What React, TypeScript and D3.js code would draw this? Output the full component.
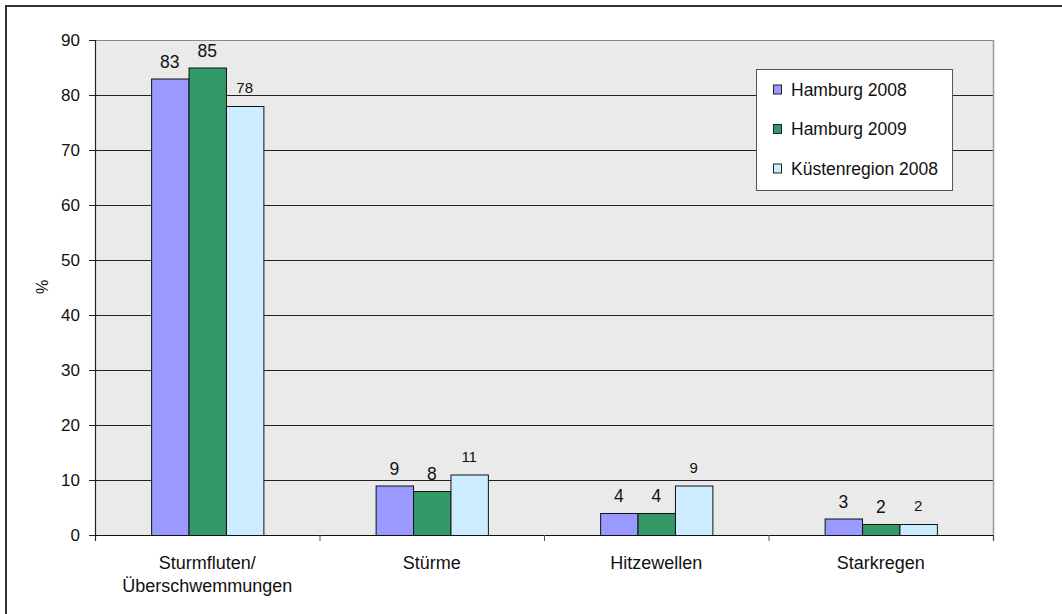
import React from "react";
import * as d3 from "d3";

const categories = ["Sturmfluten/\nÜberschwemmungen", "Stürme", "Hitzewellen", "Starkregen"];
const seriesNames = ["Hamburg 2008", "Hamburg 2009", "Küstenregion 2008"];
const hamburg2008 = [83, 9, 4, 3];
const hamburg2009 = [85, 8, 4, 2];
const kueste2008 = [78, 11, 9, 2];
const seriesColors = ["#9999FF", "#339966", "#CCECFF"];
const yTicks = [0, 10, 20, 30, 40, 50, 60, 70, 80, 90];

const seriesValues = [hamburg2008, hamburg2009, kueste2008];

export default function App() {
  const W = 1062, H = 614;
  const left = 95, right = 993, top = 40, bottom = 535;
  const y = d3.scaleLinear().domain([0, 90]).range([bottom, top]);
  const x0 = d3.scaleBand<string>().domain(categories).range([left, right]).padding(0);
  const bw = x0.bandwidth();
  const x1 = d3.scaleBand<string>().domain(seriesNames).range([bw / 4, (3 * bw) / 4]).padding(0);
  const font = "Arial, 'Liberation Sans', sans-serif";

  return (
    <svg width={W} height={H} style={{ position: "absolute", left: 0, top: 0, background: "#fff" }} fontFamily={font}>
      <rect x={6} y={6} width={1100} height={700} fill="#fff" stroke="#333" strokeWidth={2} />
      <rect x={left} y={top} width={right - left} height={bottom - top} fill="#EAEAEA" />
      {yTicks.map((t) => (
        <g key={t}>
          {t > 0 && t < 90 && (
            <line x1={left} x2={right} y1={Math.round(y(t)) + 0.5} y2={Math.round(y(t)) + 0.5} stroke="#222" strokeWidth={1} />
          )}
          <line x1={left - 6} x2={left} y1={Math.round(y(t)) + 0.5} y2={Math.round(y(t)) + 0.5} stroke="#222" />
          <text x={80} y={y(t)} dy="0.35em" textAnchor="end" fontSize={17} fill="#111">
            {t}
          </text>
        </g>
      ))}
      {/* plot border top/right */}
      <line x1={left} x2={right} y1={top + 0.5} y2={top + 0.5} stroke="#888" />
      <line x1={right + 0.5} x2={right + 0.5} y1={top} y2={bottom + 6} stroke="#999" strokeWidth={1.5} />
      {/* bars */}
      {categories.map((c, ci) => (
        <g key={c} transform={`translate(${x0(c)},0)`}>
          {seriesNames.map((s, si) => {
            const v = seriesValues[si][ci];
            const bx = x1(s)!;
            return (
              <g key={s}>
                <rect
                  x={bx + 0.5}
                  y={y(v) + 0.5}
                  width={x1.bandwidth()}
                  height={y(0) - y(v)}
                  fill={seriesColors[si]}
                  stroke="#111"
                  strokeWidth={1}
                />
                <text
                  x={bx + x1.bandwidth() / 2}
                  y={y(v) - (si === 2 ? 13 : 11)}
                  textAnchor="middle"
                  fontSize={si === 2 ? 15 : 17.5}
                  fill="#111"
                >
                  {v}
                </text>
              </g>
            );
          })}
        </g>
      ))}
      {/* axes */}
      <line x1={left + 0.5} x2={left + 0.5} y1={top} y2={bottom + 6} stroke="#222" strokeWidth={1.2} />
      <line x1={left} x2={right} y1={bottom + 0.5} y2={bottom + 0.5} stroke="#111" strokeWidth={1.2} />
      {categories.map((c) => (
        <line key={"t" + c} x1={x0(c)! + bw + 0.5} x2={x0(c)! + bw + 0.5} y1={bottom} y2={bottom + 6} stroke="#555" />
      ))}
      {categories.map((c) => {
        const lines = c.split("\n");
        return (
          <text key={"l" + c} x={x0(c)! + bw / 2} y={569} textAnchor="middle" fontSize={18} fill="#111">
            {lines.map((ln, i) => (
              <tspan key={i} x={x0(c)! + bw / 2} dy={i === 0 ? 0 : 22.5}>
                {ln}
              </tspan>
            ))}
          </text>
        );
      })}
      <text transform="translate(48,287) rotate(-90)" textAnchor="middle" fontSize={16} fill="#111">
        %
      </text>
      {/* legend */}
      <rect x={756.5} y={69.5} width={196} height={121} fill="#fff" stroke="#555" />
      {seriesNames.map((s, i) => (
        <g key={s} transform={`translate(0,${89.5 + i * 39.5})`}>
          <rect x={773.5} y={-4.5} width={8} height={9} fill={seriesColors[i]} stroke="#222" />
          <text x={791} y={0} dy="0.35em" fontSize={17.5} fill="#111">
            {s}
          </text>
        </g>
      ))}
    </svg>
  );
}
